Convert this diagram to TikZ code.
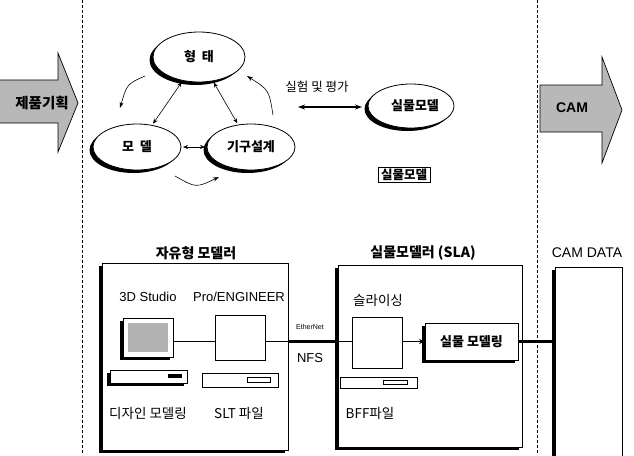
\documentclass[tikz,border=0pt]{standalone}
\usepackage{fontspec}
\setmainfont{Liberation Sans}
\newfontfamily\kr{Noto Sans CJK KR}
\usetikzlibrary{shapes.geometric,arrows.meta,shadows}
\begin{document}
\begin{tikzpicture}[x=1pt,y=-1pt,
  every node/.style={inner sep=0pt, outer sep=0pt},
  shade/.style={drop shadow={shadow xshift=-3.5pt,shadow yshift=-3pt,fill=black,opacity=1}},
  oval/.style={ellipse, draw, line width=0.8pt, fill=white, shade, font=\kr\bfseries\fontsize{13}{13}\selectfont},
  panel/.style={draw, line width=1pt, fill=white, shade},
  dev/.style={draw, line width=0.7pt, fill=white},
  lab/.style={font=\fontsize{13}{13}\selectfont},
  klab/.style={font=\kr\fontsize{13.5}{14}\selectfont},
  title/.style={font=\kr\bfseries\fontsize{14}{14}\selectfont},
  bigarrow/.style={draw, line width=0.7pt, fill=black!28},
  dbl/.style={{Stealth[length=5pt,width=4pt]}-{Stealth[length=5pt,width=4pt]}, line width=0.6pt},
  cyc/.style={-{Stealth[length=6pt,width=4pt]}, line width=0.6pt},
  divider/.style={dash pattern=on 3pt off 2pt, line width=1pt},
  link/.style={line width=0.7pt},
  bus/.style={line width=2.2pt},
]
\useasboundingbox (0,0) rectangle (634,455);
\fill[white] (0,0) rectangle (634,455);

% phase dividers
\coordinate (d1t) at (82,0);  \coordinate (d1b) at (82,455);
\coordinate (d2t) at (537,0); \coordinate (d2b) at (537,455);
\draw[divider] (d1t) -- (d1b);
\draw[divider] (d2t) -- (d2b);

% phase arrows
\draw[bigarrow] (-2,80) -- (58,80) -- (58,53) -- (78,103) -- (58,152) -- (58,123) -- (-2,123) -- cycle;
\node[font=\kr\bfseries\fontsize{14.5}{15}\selectfont] (plan) at (42,103) {제품기획};
\draw[bigarrow] (540,85) -- (602,85) -- (602,57) -- (622,110) -- (602,163) -- (602,132) -- (540,132) -- cycle;
\node[font=\bfseries\fontsize{14}{14}\selectfont] (cam) at (572,108) {CAM};

% design cycle
\node[oval, minimum width=92, minimum height=50] (form) at (199,57) {형\hspace{6pt}태};
\node[oval, minimum width=88, minimum height=46] (model) at (137,147) {모\hspace{6pt}델};
\node[oval, minimum width=88, minimum height=46] (mech) at (251,147) {기구설계};
\draw[dbl, shorten <=2pt, shorten >=2pt] (form) -- (model);
\draw[dbl, shorten <=2pt, shorten >=2pt] (form) -- (mech);
\draw[dbl, shorten <=2pt, shorten >=2pt] (model) -- (mech);

\coordinate (c1a) at (145,76);  \coordinate (c1b) at (120,108);
\coordinate (c2a) at (273,115); \coordinate (c2b) at (247,76);
\coordinate (c3a) at (175,176); \coordinate (c3b) at (219,177);
\draw[cyc] (c1a) .. controls (127,84) .. (c1b);
\draw[cyc] (c2a) .. controls (269,90) .. (c2b);
\draw[cyc] (c3a) .. controls (196,188) .. (c3b);

% physical model
\node[oval, minimum width=86, minimum height=44] (proto) at (411,106) {\hspace{8pt}실물모델};
\node[font=\kr\fontsize{12.5}{13}\selectfont] (testlab) at (317,87) {실험 및 평가};
\coordinate (tl) at (298,107); \coordinate (tr) at (362,107);
\draw[{Stealth[length=7pt,width=5pt]}-{Stealth[length=7pt,width=5pt]}, line width=1.3pt] (tl) -- (tr);
\node[draw, line width=1pt, inner xsep=3pt, inner ysep=2pt, font=\kr\bfseries\fontsize{12.5}{13}\selectfont] (protobox) at (404,175) {실물모델};

% free-form modeler
\node[title] (fmtitle) at (196,253) {자유형 모델러};
\node[panel, minimum width=186, minimum height=187] (fm) at (195,356.5) {};
\node[lab] (studio) at (148,297) {3D Studio};
\node[lab] (proe) at (239,297) {Pro/ENGINEER};
\node[klab] (design) at (148,413) {디자인 모델링};
\node[klab] (slt) at (239,413) {SLT 파일};

% design workstation
\node[dev, shade, minimum width=50, minimum height=39] (mon) at (148,337.5) {};
\node[fill=black!30, minimum width=40, minimum height=29] (screen) at (148,337) {};
\node[dev, shade, minimum width=77, minimum height=13] (kbd) at (148.5,376.5) {};
\node[fill=black, minimum width=14, minimum height=4] (kbdslot) at (175,376) {};

% CAD workstation
\node[dev, minimum width=50, minimum height=45] (ws) at (240,337.5) {};
\node[dev, minimum width=76, minimum height=14] (wsbase) at (240,380) {};
\node[dev, line width=0.6pt, minimum width=23, minimum height=5] (wsslot) at (258.5,379.5) {};
\draw[link] ([yshift=-4pt]mon.east) -- ([yshift=-4pt]ws.west);

% network
\draw[link] ([yshift=-4pt]ws.east) -- ([yshift=-4pt]ws.east -| fm.east);

% physical modeler (SLA)
\node[title] (smtitle) at (423,253) {실물모델러 (SLA)};
\node[panel, minimum width=184, minimum height=182] (sm) at (430,356) {};
\node[klab] (slice) at (378,300) {슬라이싱};
\node[klab] (bff) at (370,413) {BFF파일};
\node[dev, minimum width=50, minimum height=51] (ws2) at (377,342.5) {};
\node[dev, minimum width=77, minimum height=11] (ws2base) at (378.5,382.5) {};
\node[dev, line width=0.6pt, minimum width=24, minimum height=4] (ws2slot) at (395,382) {};
\node[panel, minimum width=93, minimum height=37, font=\kr\bfseries\fontsize{13}{13}\selectfont] (build) at (471.5,341.5) {실물 모델링};

\draw[bus] ([yshift=-4pt]ws.east -| fm.east) -- ([yshift=-4pt]ws.east -| sm.west);
\draw[link] ([yshift=-4pt]ws.east -| sm.west) -- (ws2.west |- build.west);
\draw[link, -{Stealth[length=6pt,width=5pt]}] (ws2.east |- build.west) -- (build.west);
\node[font=\fontsize{7}{7}\selectfont] (ether) at (310,327) {EtherNet};
\node[lab] (nfs) at (310,358) {NFS};

% CAM data
\node[font=\fontsize{14}{14}\selectfont] (camtitle) at (587,253) {CAM DATA};
\node[panel, minimum width=67, minimum height=203] (camdata) at (588.5,368.5) {};
\draw[bus] (build.east) -- (build.east -| camdata.west);
\end{tikzpicture}
\end{document}
